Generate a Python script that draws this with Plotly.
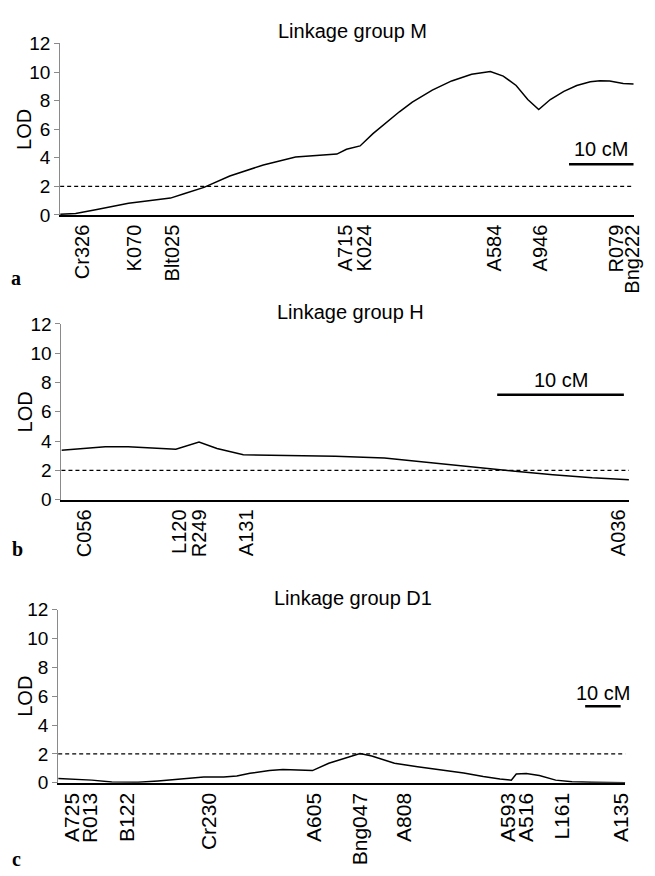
import plotly.graph_objects as go

# ---------------- data ----------------
# Linkage group M
M_CM = [0, 2.4, 5.5, 8.0, 10.6, 13.1, 15.1, 17.1, 19.2, 22.3, 26.3, 31.5, 36.5, 41.1,
        42.9, 44.4, 46.5, 48.5, 50.6, 52.6, 54.6, 57.7, 60.7, 63.8, 66.7, 68.7, 70.7,
        72.5, 74.2, 76.0, 78.1, 80.1, 82.2, 83.7, 85.2, 87.3, 88.9]
M_LOD = [0.05, 0.10, 0.36, 0.61, 0.82, 0.96, 1.07, 1.18, 1.48, 1.93, 2.73, 3.50, 4.05, 4.21,
         4.26, 4.60, 4.83, 5.69, 6.49, 7.22, 7.90, 8.74, 9.38, 9.84, 10.04, 9.72, 9.06,
         8.08, 7.38, 8.08, 8.65, 9.06, 9.32, 9.40, 9.38, 9.20, 9.17]
M_MARKERS = ["Cr326", "K070", "Blt025", "A715", "K024", "A584", "A946", "R079", "Bng222"]
M_MARKER_CM = [3.4, 11.6, 17.4, 44.2, 47.2, 67.4, 74.5, 86.2, 88.8]

# Linkage group H
H_CM = [0, 1.64, 3.46, 5.27, 7.09, 9.03, 10.86, 12.28, 14.36, 16.43, 19.03, 21.63,
        25.5, 29.4, 32.5, 35.6, 38.8, 41.9, 44.8]
H_LOD = [3.38, 3.51, 3.62, 3.62, 3.53, 3.45, 3.93, 3.49, 3.07, 3.05, 3.03, 2.97,
         2.85, 2.51, 2.20, 1.96, 1.71, 1.49, 1.36]
H_MARKERS = ["C056", "L120", "R249", "A131", "A036"]
H_MARKER_CM = [1.8, 9.3, 10.9, 14.6, 44.0]

# Linkage group D1
D1_CM = [0, 4.0, 9.5, 15.1, 22.5, 28.1, 33.6, 41.0, 46.6, 50.3, 54.0, 59.5, 63.3, 67.9,
         71.6, 76.2, 78.1, 81.8, 85.0, 88.3, 94.7, 101.2, 107.7, 114.2, 119.7, 124.4,
         127.6, 129.0, 131.8, 135.5, 140.1, 144.7, 150.3, 159.7]
D1_LOD = [0.30, 0.25, 0.18, 0.05, 0.03, 0.12, 0.25, 0.39, 0.39, 0.47, 0.66, 0.84, 0.91, 0.88,
          0.84, 1.35, 1.50, 1.81, 2.03, 1.85, 1.35, 1.11, 0.88, 0.68, 0.43, 0.25,
          0.18, 0.61, 0.64, 0.50, 0.18, 0.07, 0.03, 0.00]
D1_MARKERS = ["A725", "R013", "B122", "Cr230", "A605", "Bng047", "A808",
              "A593", "A516", "L161", "A135"]
D1_MARKER_CM = [4.0, 9.1, 19.3, 42.4, 72.0, 85.0, 97.5, 126.7, 131.8, 141.8, 158.6]

TITLES = ["Linkage group M", "Linkage group H", "Linkage group D1"]
LETTERS = ["a", "b", "c"]
Y_TICKS = [0, 2, 4, 6, 8, 10, 12]
THRESHOLD = 2.0
SCALE_CM = 10

# ---------------- layout geometry (pixels) ----------------
W, H = 655, 876
def fx(p):
    return p / W
def fy(p):
    return 1 - p / H

panels = [
    dict(cm=M_CM, lod=M_LOD, names=M_MARKERS, mk=M_MARKER_CM,
         xpx=(61, 643), ypx=(34.3, 210), xmax=89.0,
         bar_x0=78.9, bar_y=3.55, bar_txt_y=4.65, mk_size=20,
         title_px=(357, 22), letter_px=(16, 275)),
    dict(cm=H_CM, lod=H_LOD, names=H_MARKERS, mk=H_MARKER_CM,
         xpx=(62.3, 637.7), ypx=(321.7, 501.7), xmax=44.8,
         bar_x0=34.4, bar_y=7.16, bar_txt_y=8.15, mk_size=20,
         title_px=(355, 309), letter_px=(18, 552)),
    dict(cm=D1_CM, lod=D1_LOD, names=D1_MARKERS, mk=D1_MARKER_CM,
         xpx=(59, 634), ypx=(614.3, 791.7), xmax=159.7,
         bar_x0=148.4, bar_y=5.3, bar_txt_y=6.25, mk_size=21,
         title_px=(358, 602), letter_px=(17, 870)),
]

FONT = "Liberation Sans, Arial, Helvetica, sans-serif"

fig = go.Figure()
annotations = []
shapes = []

for i, p in enumerate(panels):
    n = "" if i == 0 else str(i + 1)
    xa, ya = "x" + n, "y" + n
    fig.add_trace(go.Scatter(
        x=p["cm"], y=p["lod"], mode="lines",
        line=dict(color="black", width=1.5),
        xaxis=xa, yaxis=ya, showlegend=False, hoverinfo="skip"))

    fig.layout["xaxis" + n] = dict(
        domain=[fx(p["xpx"][0]), fx(p["xpx"][1])], anchor=ya,
        range=[0, p["xmax"]], showgrid=False, zeroline=False,
        showline=True, linecolor="black", linewidth=1.5,
        ticks="", tickmode="array", tickvals=p["mk"], ticktext=p["names"],
        tickangle=-90, tickfont=dict(family=FONT, size=p["mk_size"], color="black"),
        ticklabelstandoff=0)
    fig.layout["yaxis" + n] = dict(
        domain=[fy(p["ypx"][1]), fy(p["ypx"][0])], anchor=xa,
        range=[0, 12], showgrid=False, zeroline=False,
        showline=True, linecolor="#8a8a8a", linewidth=1,
        ticks="outside", ticklen=5, tickcolor="#8a8a8a", tickwidth=1,
        tickmode="array", tickvals=Y_TICKS,
        tickfont=dict(family=FONT, size=19, color="black"))

    # threshold line
    shapes.append(dict(type="line", xref=xa + " domain", yref=ya,
                       x0=0, x1=1, y0=THRESHOLD, y1=THRESHOLD,
                       line=dict(color="black", width=1.2, dash="4px,3px")))
    # scale bar
    shapes.append(dict(type="line", xref=xa, yref=ya,
                       x0=p["bar_x0"], x1=p["bar_x0"] + SCALE_CM,
                       y0=p["bar_y"], y1=p["bar_y"],
                       line=dict(color="black", width=2.5)))
    annotations.append(dict(xref=xa, yref=ya, x=p["bar_x0"] + SCALE_CM / 2,
                            y=p["bar_txt_y"], text=f"{SCALE_CM} cM", showarrow=False,
                            font=dict(family=FONT, size=20, color="black"),
                            xanchor="center", yanchor="middle"))
    # title
    annotations.append(dict(xref="paper", yref="paper",
                            x=fx(p["title_px"][0]), y=fy(p["title_px"][1]),
                            text=TITLES[i], showarrow=False,
                            font=dict(family=FONT, size=20, color="black"),
                            xanchor="center", yanchor="middle"))
    # LOD label
    annotations.append(dict(xref="paper", yref="paper",
                            x=fx(25), y=fy((p["ypx"][0] + p["ypx"][1]) / 2),
                            text="LOD", textangle=-90, showarrow=False,
                            font=dict(family=FONT, size=20, color="black"),
                            xanchor="center", yanchor="middle"))
    # panel letter
    annotations.append(dict(xref="paper", yref="paper",
                            x=fx(p["letter_px"][0]), y=fy(p["letter_px"][1]),
                            text="<b>" + LETTERS[i] + "</b>", showarrow=False,
                            font=dict(family="Liberation Serif, Times New Roman, serif",
                                      size=20, color="black"),
                            xanchor="center", yanchor="middle"))

fig.update_layout(
    width=W, height=H, margin=dict(l=0, r=0, t=0, b=0),
    paper_bgcolor="white", plot_bgcolor="white",
    annotations=annotations, shapes=shapes, showlegend=False)

fig.write_html("out.html", config={"displayModeBar": False},
               post_script="document.body.style.margin='0';")
